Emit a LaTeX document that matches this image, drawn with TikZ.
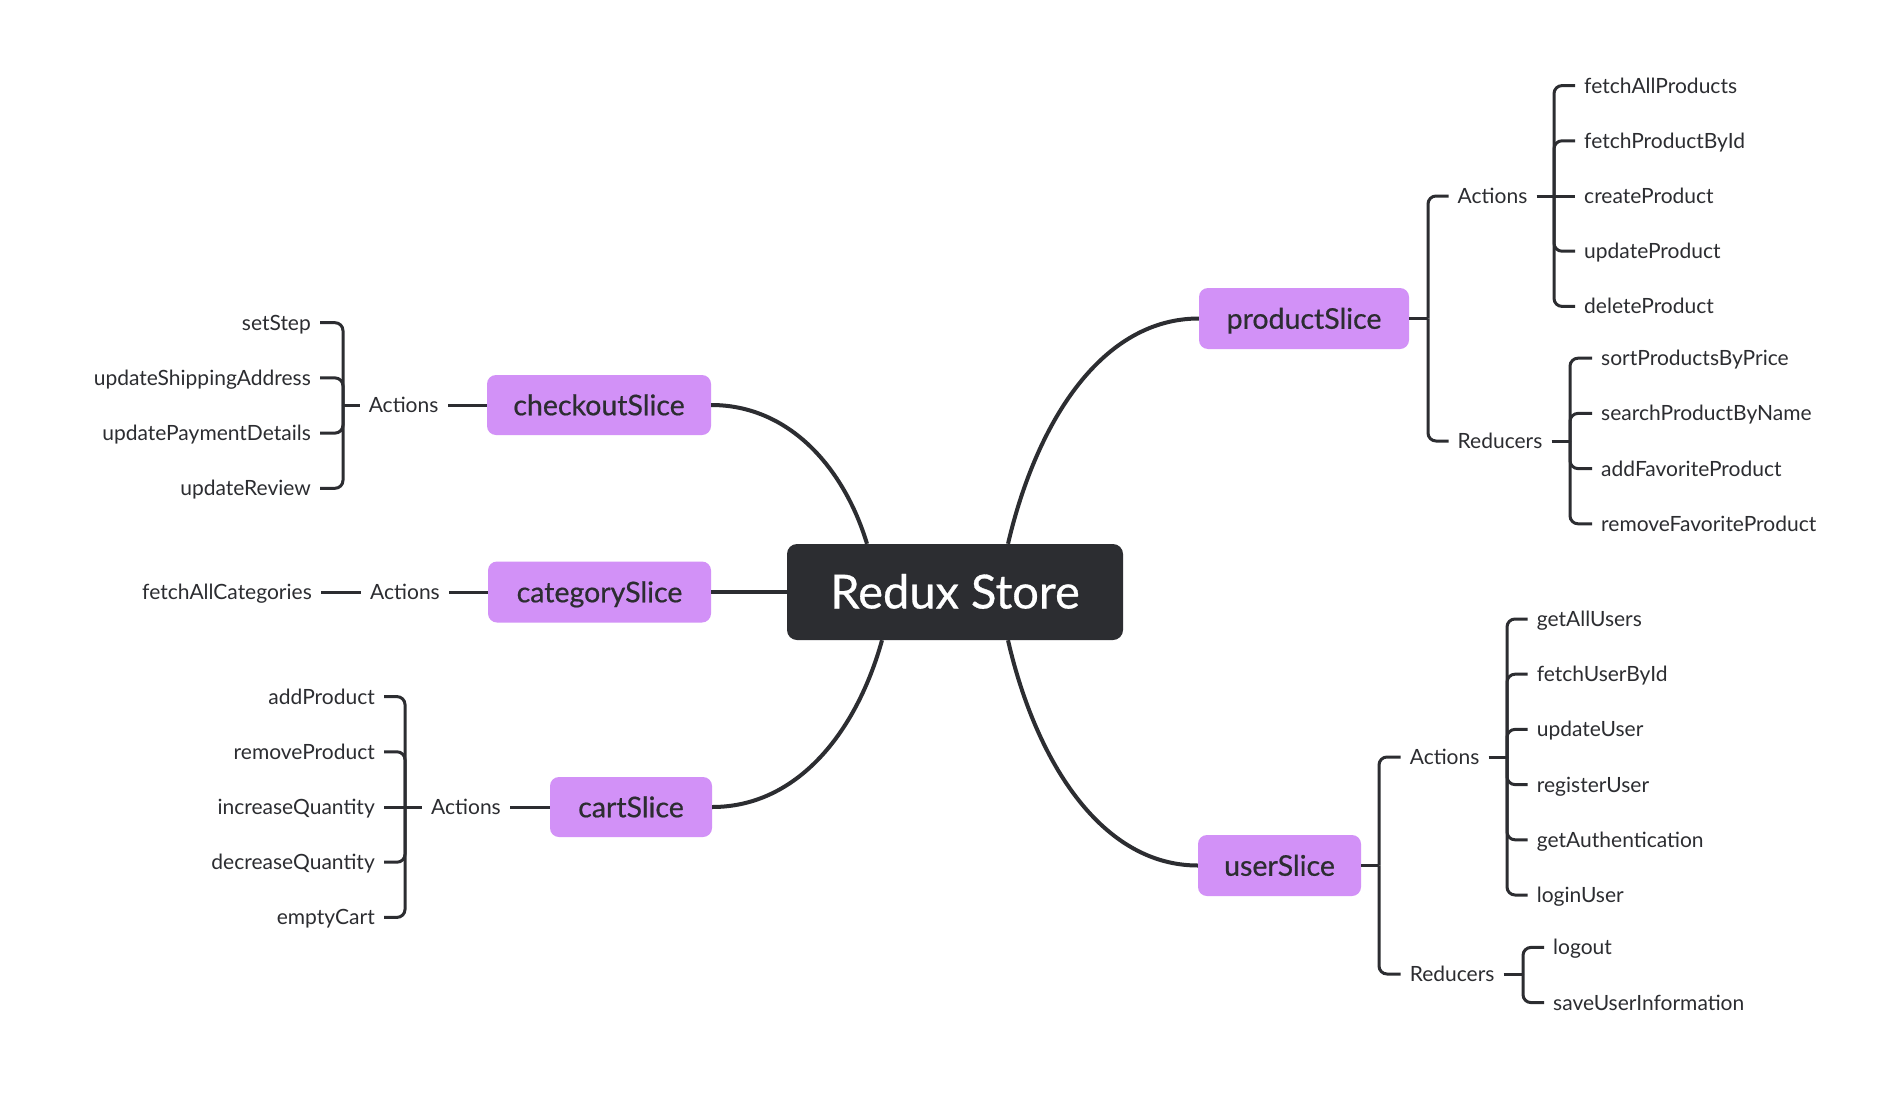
\documentclass[tikz,border=0pt]{standalone}
\usepackage{fontspec}
\setmainfont{Lato}
\newfontfamily\medfont[FakeBold=0.6]{Lato}
\usetikzlibrary{calc}
\definecolor{ink}{HTML}{2C2D31}
\definecolor{lilac}{HTML}{D291F7}
\begin{document}
\begin{tikzpicture}[x=1pt,y=-1pt,
  leaf/.style={inner xsep=9pt, inner ysep=0pt, text height=15pt, text depth=0pt,
    font=\fontsize{21}{25}\selectfont, text=ink},
  slice/.style={fill=lilac, rounded corners=9pt, minimum height=61pt, inner sep=0pt,
    text height=20.5pt, text depth=0pt, font=\medfont\fontsize{28.5}{32}\selectfont, text=ink},
  root/.style={fill=ink, rounded corners=10pt, minimum width=336pt, minimum height=96pt,
    inner sep=0pt, text height=33pt, text depth=0pt, font=\medfont\fontsize{47}{52}\selectfont, text=white},
  trunk/.style={draw=ink, line width=4pt},
  branch/.style={draw=ink, line width=3pt, rounded corners=8pt},
]
\useasboundingbox (0,0) rectangle (1886,1108);
\fill[white] (0,0) rectangle (1886,1108);

% root and slices
\node[root] (rs) at (955,592) {Redux Store};
\node[slice, minimum width=210pt] (pS) at (1304,318.5) {productSlice};
\node[slice, minimum width=163pt] (uS) at (1279.5,865.5) {userSlice};
\node[slice, minimum width=224pt, minimum height=60pt] (cS) at (599,405) {checkoutSlice};
\node[slice, minimum width=223pt] (catS) at (599.5,592) {categorySlice};
\node[slice, minimum width=162pt, minimum height=60pt] (crtS) at (631,807) {cartSlice};

% main connectors
\draw[trunk] ([xshift=53pt]rs.north) .. controls +(29,-124) and +(-96,0) .. (pS.west);
\draw[trunk] ([xshift=53pt]rs.south) .. controls +(28.5,124) and +(-95,0) .. (uS.west);
\draw[trunk] ([xshift=-88pt]rs.north) .. controls +(-23,-76) and +(78,0) .. (cS.east);
\draw[trunk] ([xshift=-73pt]rs.south) .. controls +(-25.5,92) and +(85,0) .. (crtS.east);
\draw[trunk] (rs.west) -- (catS.east);

% ---------- productSlice ----------
\node[leaf, anchor=west] (pA) at (1448.5,196) {Actions};
\node[leaf, anchor=west] (pR) at (1448.5,441) {Reducers};
\coordinate (pSj) at (1428,318.5);
\draw[branch] (pS.east) -- (pSj);
\draw[branch] (pSj) |- (pA.west);
\draw[branch] (pSj) |- (pR.west);

\node[leaf, anchor=west] (pA1) at (1575,85.6) {fetchAllProducts};
\node[leaf, anchor=west] (pA2) at (1575,140.8) {fetchProductById};
\node[leaf, anchor=west] (pA3) at (1575,196) {createProduct};
\node[leaf, anchor=west] (pA4) at (1575,251.2) {updateProduct};
\node[leaf, anchor=west] (pA5) at (1575,306.4) {deleteProduct};
\coordinate (pAj) at (1554,196);
\draw[branch] (pA.east) -- (pAj);
\foreach \n in {pA1,pA2,pA4,pA5} \draw[branch] (pAj) |- (\n.west);
\draw[branch] (pAj) -- (pA3.west);

\node[leaf, anchor=west] (pR1) at (1592,358.2) {sortProductsByPrice};
\node[leaf, anchor=west] (pR2) at (1592,413.4) {searchProductByName};
\node[leaf, anchor=west] (pR3) at (1592,468.6) {addFavoriteProduct};
\node[leaf, anchor=west] (pR4) at (1592,523.8) {removeFavoriteProduct};
\coordinate (pRj) at (1570,441);
\draw[branch] (pR.east) -- (pRj);
\foreach \n in {pR1,pR2,pR3,pR4} \draw[branch] (pRj) |- (\n.west);

% ---------- userSlice ----------
\node[leaf, anchor=west] (uA) at (1400.6,757) {Actions};
\node[leaf, anchor=west] (uR) at (1400.6,974) {Reducers};
\coordinate (uSj) at (1379,865.5);
\draw[branch] (uS.east) -- (uSj);
\draw[branch] (uSj) |- (uA.west);
\draw[branch] (uSj) |- (uR.west);

\node[leaf, anchor=west] (uA1) at (1527.7,619) {getAllUsers};
\node[leaf, anchor=west] (uA2) at (1527.7,674.2) {fetchUserById};
\node[leaf, anchor=west] (uA3) at (1527.7,729.4) {updateUser};
\node[leaf, anchor=west] (uA4) at (1527.7,784.6) {registerUser};
\node[leaf, anchor=west] (uA5) at (1527.7,839.8) {getAuthentication};
\node[leaf, anchor=west] (uA6) at (1527.7,895) {loginUser};
\coordinate (uAj) at (1507,757);
\draw[branch] (uA.east) -- (uAj);
\foreach \n in {uA1,uA2,uA3,uA4,uA5,uA6} \draw[branch] (uAj) |- (\n.west);

\node[leaf, anchor=west] (uR1) at (1544,947.4) {logout};
\node[leaf, anchor=west] (uR2) at (1544,1002.6) {saveUserInformation};
\coordinate (uRj) at (1523,974);
\draw[branch] (uR.east) -- (uRj);
\foreach \n in {uR1,uR2} \draw[branch] (uRj) |- (\n.west);

% ---------- checkoutSlice ----------
\node[leaf, anchor=east] (cA) at (447.6,405) {Actions};
\draw[branch] (cS.west) -- (cA.east);
\node[leaf, anchor=east] (cA1) at (320,322.7) {setStep};
\node[leaf, anchor=east] (cA2) at (320,377.9) {updateShippingAddress};
\node[leaf, anchor=east] (cA3) at (320,433.1) {updatePaymentDetails};
\node[leaf, anchor=east] (cA4) at (320,488.3) {updateReview};
\coordinate (cAj) at (343,405);
\draw[branch] (cA.west) -- (cAj);
\foreach \n in {cA1,cA2,cA3,cA4} \draw[branch] (cAj) |- (\n.east);

% ---------- categorySlice ----------
\node[leaf, anchor=east] (catA) at (449,592) {Actions};
\node[leaf, anchor=east] (catA1) at (321,592) {fetchAllCategories};
\draw[branch] (catS.west) -- (catA.east);
\draw[branch] (catA.west) -- (catA1.east);

% ---------- cartSlice ----------
\node[leaf, anchor=east] (crtA) at (510,807) {Actions};
\draw[branch] (crtS.west) -- (crtA.east);
\node[leaf, anchor=east] (crt1) at (384,696.6) {addProduct};
\node[leaf, anchor=east] (crt2) at (384,751.8) {removeProduct};
\node[leaf, anchor=east] (crt3) at (384,807) {increaseQuantity};
\node[leaf, anchor=east] (crt4) at (384,862.2) {decreaseQuantity};
\node[leaf, anchor=east] (crt5) at (384,917.4) {emptyCart};
\coordinate (crtAj) at (405,807);
\draw[branch] (crtA.west) -- (crtAj);
\foreach \n in {crt1,crt2,crt4,crt5} \draw[branch] (crtAj) |- (\n.east);
\draw[branch] (crtAj) -- (crt3.east);
\end{tikzpicture}
\end{document}
